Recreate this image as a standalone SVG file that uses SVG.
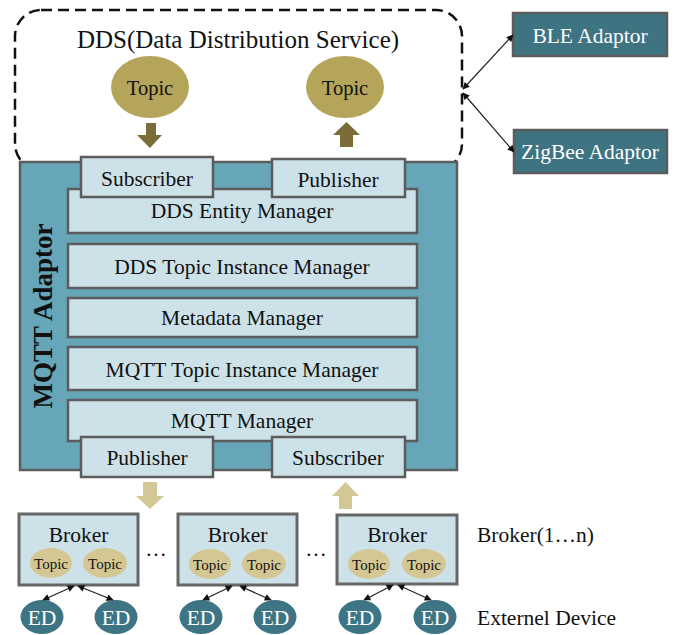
<svg xmlns="http://www.w3.org/2000/svg" width="676" height="635" viewBox="0 0 676 635" font-family="'Liberation Serif', 'Times New Roman', serif">
  <style>
    text { font-family: "Liberation Serif", "Times New Roman", serif; fill: #111; text-anchor: middle; }
    .layer { fill: #cde1e8; stroke: #5c5c5c; stroke-width: 2.5; }
    .adaptor { fill: #3e7381; stroke: #5c5c5c; stroke-width: 2.5; }
    .broker { fill: #cde1e8; stroke: #666; stroke-width: 3; }
    .ddsTopic { fill: #b4a55b; }
    .brokerTopic { fill: #d5c793; }
    .ed { fill: #3e7585; }
    .lbl { font-size: 21.5px; }
    .small { font-size: 15px; }
    .white { fill: #fff; }
    .link { stroke: #222; stroke-width: 1.2; fill: none; marker-start: url(#tip); marker-end: url(#tip); }
  </style>
  <defs>
    <marker id="tip" viewBox="0 0 10 10" refX="9" refY="5" markerWidth="8" markerHeight="7" markerUnits="userSpaceOnUse" orient="auto-start-reverse">
      <path d="M0,0 L10,5 L0,10 Z" fill="#111"/>
    </marker>
  </defs>

  <!-- DDS domain (dashed) -->
  <g id="dds">
    <rect x="15" y="10" width="447" height="160" rx="26" ry="26" fill="none" stroke="#111" stroke-width="2.5" stroke-dasharray="11 6"/>
    <text x="238" y="48" style="font-size:25px">DDS(Data Distribution Service)</text>
  </g>

  <g id="dds-topic-in">
    <ellipse cx="150" cy="87" rx="39" ry="31" class="ddsTopic"/>
    <text x="150" y="95" class="lbl" style="font-size:20.5px">Topic</text>
  </g>
  <g id="dds-topic-out">
    <ellipse cx="345" cy="87" rx="39" ry="31" class="ddsTopic"/>
    <text x="345" y="95" class="lbl" style="font-size:20.5px">Topic</text>
  </g>

  <!-- MQTT adaptor container -->
  <g id="mqtt-adaptor">
    <rect x="20" y="162" width="437" height="308" fill="#66a6b8" stroke="#5c5c5c" stroke-width="2.5"/>
    <text transform="translate(52,316) rotate(-90)" style="font-size:27px;font-weight:bold">MQTT Adaptor</text>
  </g>

  <g id="dds-entity-manager">
    <rect x="68" y="189" width="349" height="44" class="layer"/>
    <text x="242" y="218" class="lbl">DDS Entity Manager</text>
  </g>
  <g id="dds-subscriber">
    <rect x="81" y="157" width="132" height="40" class="layer"/>
    <text x="147" y="186" class="lbl">Subscriber</text>
  </g>
  <g id="dds-publisher">
    <rect x="272" y="159" width="133" height="38" class="layer"/>
    <text x="338" y="187" class="lbl">Publisher</text>
  </g>
  <g id="dds-topic-instance-manager">
    <rect x="68" y="244" width="349" height="44" class="layer"/>
    <text x="242" y="274" class="lbl">DDS Topic Instance Manager</text>
  </g>
  <g id="metadata-manager">
    <rect x="68" y="298" width="349" height="39" class="layer"/>
    <text x="242" y="325" class="lbl">Metadata Manager</text>
  </g>
  <g id="mqtt-topic-instance-manager">
    <rect x="68" y="347" width="349" height="43" class="layer"/>
    <text x="242" y="377" class="lbl">MQTT Topic Instance Manager</text>
  </g>
  <g id="mqtt-manager">
    <rect x="68" y="400" width="349" height="41" class="layer"/>
    <text x="242" y="428" class="lbl">MQTT Manager</text>
  </g>
  <g id="mqtt-publisher">
    <rect x="81" y="437" width="132" height="40" class="layer"/>
    <text x="147" y="465" class="lbl">Publisher</text>
  </g>
  <g id="mqtt-subscriber">
    <rect x="272" y="437" width="133" height="40" class="layer"/>
    <text x="338" y="465" class="lbl">Subscriber</text>
  </g>

  <!-- Side adaptors -->
  <g id="ble-adaptor">
    <rect x="513" y="13" width="154" height="43" class="adaptor"/>
    <text x="590" y="43" class="lbl white">BLE Adaptor</text>
  </g>
  <g id="zigbee-adaptor">
    <rect x="514" y="130" width="153" height="43" class="adaptor"/>
    <text x="590" y="159" class="lbl white">ZigBee Adaptor</text>
  </g>

  <!-- Brokers -->
  <g id="broker-1">
    <rect x="19" y="514" width="119" height="71" class="broker"/>
    <text x="78.5" y="542" class="lbl">Broker</text>
    <ellipse cx="51" cy="563" rx="21" ry="15" class="brokerTopic"/>
    <text x="51" y="569" class="small">Topic</text>
    <ellipse cx="105" cy="563" rx="22" ry="15" class="brokerTopic"/>
    <text x="105" y="569" class="small">Topic</text>
  </g>
  <g id="broker-2">
    <rect x="178" y="514" width="119" height="71" class="broker"/>
    <text x="237.5" y="542" class="lbl">Broker</text>
    <ellipse cx="210" cy="564" rx="21" ry="15" class="brokerTopic"/>
    <text x="210" y="570" class="small">Topic</text>
    <ellipse cx="264" cy="564" rx="22" ry="15" class="brokerTopic"/>
    <text x="264" y="570" class="small">Topic</text>
  </g>
  <g id="broker-3">
    <rect x="337" y="515" width="120" height="69" class="broker"/>
    <text x="397" y="542" class="lbl">Broker</text>
    <ellipse cx="369" cy="564" rx="21" ry="15" class="brokerTopic"/>
    <text x="369" y="570" class="small">Topic</text>
    <ellipse cx="424" cy="564" rx="22" ry="15" class="brokerTopic"/>
    <text x="424" y="570" class="small">Topic</text>
  </g>

  <text x="156" y="556" class="lbl">…</text>
  <text x="316" y="556" class="lbl">…</text>
  <text x="477" y="542" class="lbl" style="text-anchor:start">Broker(1…n)</text>
  <text x="477" y="625" class="lbl" style="text-anchor:start">Externel Device</text>

  <!-- External devices -->
  <g id="ed-1"><ellipse cx="42" cy="617" rx="21.5" ry="17" class="ed"/><text x="42" y="625" class="lbl white">ED</text></g>
  <g id="ed-2"><ellipse cx="116" cy="617" rx="21.5" ry="17" class="ed"/><text x="116" y="625" class="lbl white">ED</text></g>
  <g id="ed-3"><ellipse cx="201" cy="617" rx="21.5" ry="17" class="ed"/><text x="201" y="625" class="lbl white">ED</text></g>
  <g id="ed-4"><ellipse cx="275" cy="617" rx="21.5" ry="17" class="ed"/><text x="275" y="625" class="lbl white">ED</text></g>
  <g id="ed-5"><ellipse cx="360" cy="617" rx="21.5" ry="17" class="ed"/><text x="360" y="625" class="lbl white">ED</text></g>
  <g id="ed-6"><ellipse cx="435" cy="617" rx="21.5" ry="17" class="ed"/><text x="435" y="625" class="lbl white">ED</text></g>

  <!-- Connectors -->
  <g id="connectors">
    <!-- block arrows: DDS topics <-> DDS pub/sub -->
    <path d="M146,123 H156 V135 H162 L150,148 L137,135 H146 Z" fill="#7a6d38"/>
    <path d="M340,147 H353 V135 H360 L346.5,122 L333,135 H340 Z" fill="#7a6d38"/>
    <!-- block arrows: MQTT pub/sub <-> brokers -->
    <path d="M143,482 H157 V496 H164 L150,509 L136,496 H143 Z" fill="#d3c795"/>
    <path d="M339,509 H352 V496 H359 L345.5,482 L332,496 H339 Z" fill="#d3c795"/>
    <!-- adaptor links -->
    <line x1="463" y1="89" x2="513" y2="35" class="link"/>
    <line x1="463" y1="93" x2="514" y2="152" class="link"/>
    <!-- device links -->
    <line x1="43" y1="600" x2="74" y2="586" class="link"/>
    <line x1="78" y1="586" x2="113" y2="600" class="link"/>
    <line x1="203" y1="600" x2="232" y2="586" class="link"/>
    <line x1="240" y1="586" x2="271" y2="600" class="link"/>
    <line x1="364" y1="600" x2="393" y2="585" class="link"/>
    <line x1="398" y1="585" x2="431" y2="600" class="link"/>
  </g>
</svg>
